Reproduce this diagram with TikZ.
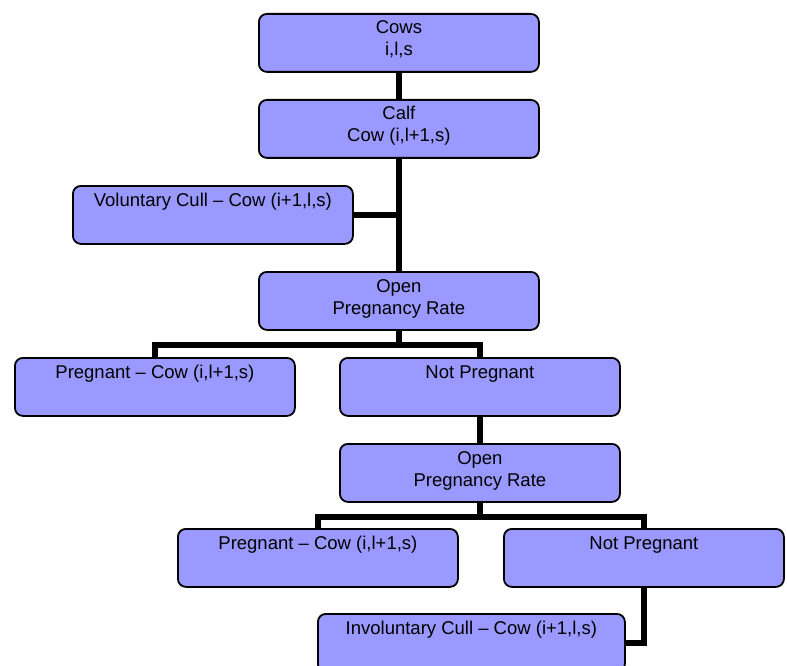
\documentclass[tikz,border=0pt]{standalone}
\usepackage{fontspec}
\setmainfont{Liberation Sans}
\usetikzlibrary{calc}
\definecolor{boxfill}{RGB}{153,153,255}
\begin{document}
\begin{tikzpicture}[x=1pt,y=-1pt,
  box/.style={draw=black, line width=1.8pt, fill=boxfill, rounded corners=8pt,
    minimum width=280pt, minimum height=58pt, inner sep=0pt, anchor=north west},
  txt/.style={font=\fontsize{18.5}{22}\selectfont, inner sep=0pt, anchor=base, text=black},
  link/.style={line width=5.5pt, draw=black}
]
\useasboundingbox (0,0) rectangle (787,666);

% connectors first (behind boxes)
\begin{scope}
\end{scope}

% boxes
\node[box] (cows)  at (258,13)  {};
\node[box] (calf)  at (258,99)  {};
\node[box] (vol)   at (72,185)  {};
\node[box] (open1) at (258,271) {};
\node[box] (preg1) at (14,357)  {};
\node[box] (notp1) at (339,357) {};
\node[box] (open2) at (339,443) {};
\node[box] (preg2) at (177,528) {};
\node[box] (notp2) at (503,528) {};
\node[box, minimum width=307pt] (invol) at (317,613) {};

% connectors
\draw[link] (cows.south) -- (calf.north);
\draw[link] (calf.south) -- (open1.north);
\draw[link] (vol.east) -- (vol.east -| calf.south);
\coordinate (j1) at ($(open1.south)+(0,14)$);
\draw[link] (open1.south) -- (j1);
\draw[link] (preg1.north) |- (j1) -| (notp1.north);
\draw[link] (notp1.south) -- (open2.north);
\coordinate (j2) at ($(open2.south)+(0,14)$);
\draw[link] (open2.south) -- (j2);
\draw[link] (preg2.north) |- (j2) -| (notp2.north);
\draw[link] (notp2.south) |- (invol.east);

% texts
\node[txt] (cows-a)  at ($(cows.north)+(0,21)$)  {Cows};
\node[txt] (cows-b)  at ($(cows.north)+(0,43)$)  {i,l,s};
\node[txt] (calf-a)  at ($(calf.north)+(0,21)$)  {Calf};
\node[txt] (calf-b)  at ($(calf.north)+(0,43)$)  {Cow (i,l+1,s)};
\node[txt] (vol-a)   at ($(vol.north)+(0,21)$)   {Voluntary Cull -- Cow (i+1,l,s)};
\node[txt] (open1-a) at ($(open1.north)+(0,21)$) {Open};
\node[txt] (open1-b) at ($(open1.north)+(0,43)$) {Pregnancy Rate};
\node[txt] (preg1-a) at ($(preg1.north)+(0,21)$) {Pregnant -- Cow (i,l+1,s)};
\node[txt] (notp1-a) at ($(notp1.north)+(0,21)$) {Not Pregnant};
\node[txt] (open2-a) at ($(open2.north)+(0,21)$) {Open};
\node[txt] (open2-b) at ($(open2.north)+(0,43)$) {Pregnancy Rate};
\node[txt] (preg2-a) at ($(preg2.north)+(0,21)$) {Pregnant -- Cow (i,l+1,s)};
\node[txt] (notp2-a) at ($(notp2.north)+(0,21)$) {Not Pregnant};
\node[txt] (invol-a) at ($(invol.north)+(0,21)$) {Involuntary Cull -- Cow (i+1,l,s)};
\end{tikzpicture}
\end{document}
